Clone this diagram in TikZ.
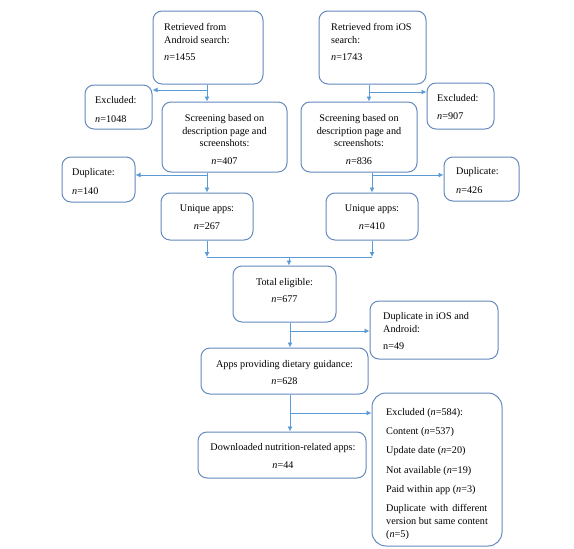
\documentclass[tikz,border=0pt]{standalone}
\usepackage{fontspec}
\setmainfont{Liberation Serif}
\usetikzlibrary{arrows.meta}
\definecolor{boxc}{RGB}{100,138,190}
\definecolor{arrc}{RGB}{91,155,213}
\tikzset{
  box/.style={draw=boxc, line width=1pt, rounded corners=9pt, inner sep=0pt},
  conn/.style={draw=arrc, line width=0.8pt},
  arr/.style={conn, -{Latex[length=5pt,width=5pt]}},
  txtl/.style={inner sep=0pt, anchor=north west, align=left, font=\fontsize{10.2}{12.8}\selectfont, yshift=-2pt},
  txtc/.style={inner sep=0pt, anchor=north, align=center, font=\fontsize{10.2}{12.8}\selectfont, yshift=-2pt},
}
\begin{document}
\begin{tikzpicture}[x=1pt,y=-1pt]
\useasboundingbox[fill=white] (0,0) rectangle (574,549);
% boxes
\node[box, minimum width=110pt, minimum height=73pt] (A) at (208,47.5) {};
\node[box, minimum width=107pt, minimum height=73pt] (B) at (372.5,47.5) {};
\node[box, minimum width=67pt, minimum height=44pt] (ExclL) at (118.5,107) {};
\node[box, minimum width=67pt, minimum height=46pt] (ExclR) at (460.5,106) {};
\node[box, minimum width=125pt, minimum height=70pt] (ScrL) at (224.5,137) {};
\node[box, minimum width=116pt, minimum height=70pt] (ScrR) at (359,137) {};
\node[box, minimum width=73pt, minimum height=45pt] (DupL) at (98.5,179.5) {};
\node[box, minimum width=75pt, minimum height=44pt] (DupR) at (481.5,179) {};
\node[box, minimum width=92pt, minimum height=47pt] (UniL) at (207,216.5) {};
\node[box, minimum width=92pt, minimum height=47pt] (UniR) at (372,216.5) {};
\node[box, minimum width=103pt, minimum height=56pt] (Total) at (284.5,294) {};
\node[box, minimum width=128pt, minimum height=58pt] (DupIA) at (434,330) {};
\node[box, minimum width=167pt, minimum height=46pt] (Apps) at (284.5,371) {};
\node[box, minimum width=168pt, minimum height=46pt] (Down) at (282,455) {};
\node[box, minimum width=130pt, minimum height=153pt, rounded corners=14pt] (ExcB) at (437,469.5) {};
% texts
\node[txtl] (At) at (164,21) {Retrieved from\\Android search:\\[5pt]\textit{n}=1455};
\node[txtl] (Bt) at (331,21) {Retrieved from iOS\\search:\\[5pt]\textit{n}=1743};
\node[txtl] (ExclLt) at (95,94) {Excluded:\\[6pt]\textit{n}=1048};
\node[txtl] (ExclRt) at (437,92) {Excluded:\\[5pt]\textit{n}=907};
\node[txtc] (ScrLt) at (224.5,112) {Screening based on\\description page and\\screenshots:\\[5pt]\textit{n}=407};
\node[txtc] (ScrRt) at (359,112) {Screening based on\\description page and\\screenshots:\\[5pt]\textit{n}=836};
\node[txtl] (DupLt) at (72,166) {Duplicate:\\[6pt]\textit{n}=140};
\node[txtl] (DupRt) at (456,165) {Duplicate:\\[6pt]\textit{n}=426};
\node[txtc] (UniLt) at (207,203) {Unique apps:\\[5pt]\textit{n}=267};
\node[txtc] (UniRt) at (372,203) {Unique apps:\\[5pt]\textit{n}=410};
\node[txtc] (Totalt) at (284.5,276) {Total eligible:\\[4pt]\textit{n}=677};
\node[txtl] (DupIAt) at (383,310) {Duplicate in iOS and\\Android:\\[5pt]n=49};
\node[txtc] (Appst) at (284.5,358) {Apps providing dietary guidance:\\[4pt]\textit{n}=628};
\node[txtc] (Downt) at (283,441) {Downloaded nutrition-related apps:\\[5pt]\textit{n}=44};
\node[txtl] (ExcBt) at (386,406) {Excluded (\textit{n}=584):\\[6.5pt]
Content (\textit{n}=537)\\[6.5pt]
Update date (\textit{n}=20)\\[6.5pt]
Not available (\textit{n}=19)\\[6.5pt]
Paid within app (\textit{n}=3)\\[6.5pt]
\makebox[101pt][s]{Duplicate with different}\\
version but same content\\
(\textit{n}=5)};
% connectors
\coordinate (bA) at (207,90);
\draw[arr] (A.south -| bA) -- (ScrL.north -| bA);
\draw[arr] (bA) -- (bA -| ExclL.east);
\coordinate (bB) at (369,92);
\draw[arr] (B.south -| bB) -- (ScrR.north -| bB);
\draw[arr] (bB) -- (bB -| ExclR.west);
\coordinate (bSL) at (207,175);
\draw[arr] (ScrL.south -| bSL) -- (UniL.north);
\draw[arr] (bSL) -- (bSL -| DupL.east);
\coordinate (bSR) at (372,175);
\draw[arr] (ScrR.south -| bSR) -- (UniR.north);
\draw[arr] (bSR) -- (bSR -| DupR.west);
\coordinate (mL) at (207,257);
\coordinate (mR) at (372,257);
\coordinate (mC) at (289,257);
\draw[arr] (UniL.south) -- (mL);
\draw[arr] (UniR.south) -- (mR);
\draw[conn] (mL) -- (mR);
\draw[arr] (mC) -- (mC |- Total.north);
\coordinate (bT) at (290,331);
\draw[arr] (Total.south -| bT) -- (Apps.north -| bT);
\draw[arr] (bT) -- (bT -| DupIA.west);
\coordinate (bAp) at (290,413);
\draw[arr] (Apps.south -| bAp) -- (Down.north -| bAp);
\draw[arr] (bAp) -- (bAp -| ExcB.west);
\end{tikzpicture}
\end{document}
